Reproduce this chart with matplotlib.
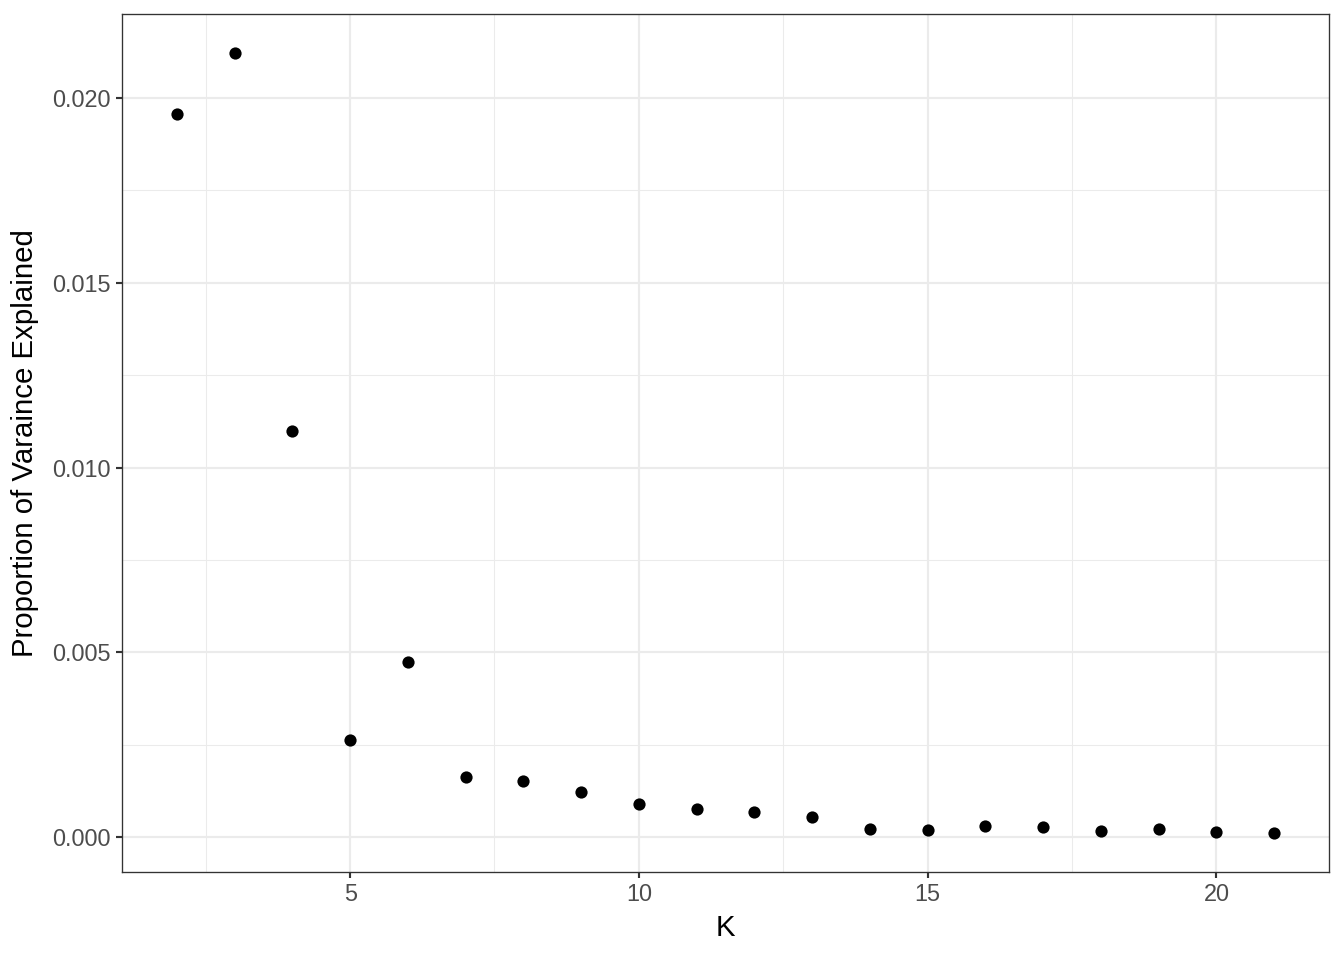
import matplotlib
matplotlib.use("Agg")
import matplotlib.pyplot as plt
import numpy as np

# proportion of variance explained by each K
k_values = [2, 3, 4, 5, 6, 7, 8, 9, 10, 11, 12, 13, 14, 15, 16, 17, 18, 19, 20, 21]
pve = [0.01957, 0.02122, 0.01100, 0.00262, 0.00473, 0.00162, 0.00151, 0.00122,
       0.00089, 0.00076, 0.00068, 0.00055, 0.00022, 0.00019, 0.00030, 0.00027,
       0.00016, 0.00022, 0.00014, 0.00011]

x_ticks = [5, 10, 15, 20]
y_ticks = [0.000, 0.005, 0.010, 0.015, 0.020]
y_ticklabels = ["0.000", "0.005", "0.010", "0.015", "0.020"]

plt.rcParams["font.family"] = ["Liberation Sans", "DejaVu Sans"]

DPI = 192
fig = plt.figure(figsize=(1344 / DPI, 960 / DPI), dpi=DPI)
ax = fig.add_axes([122 / 1344, 1 - 872 / 960, (1329 - 122) / 1344, (872 - 14) / 960])

ax.scatter(k_values, pve, s=21, color="black", zorder=3, linewidths=0)

# ggplot-style 5% expansion
xr = max(k_values) - min(k_values)
yr = max(pve) - min(pve)
ax.set_xlim(min(k_values) - 0.05 * xr, max(k_values) + 0.05 * xr)
ax.set_ylim(min(pve) - 0.05 * yr, max(pve) + 0.05 * yr)

ax.set_xticks(x_ticks)
ax.set_xticklabels([str(t) for t in x_ticks])
ax.set_yticks(y_ticks)
ax.set_yticklabels(y_ticklabels)
ax.set_xticks([2.5, 7.5, 12.5, 17.5], minor=True)
ax.set_yticks([0.0025, 0.0075, 0.0125, 0.0175], minor=True)

ax.grid(which="major", color="#EBEBEB", linewidth=0.8, zorder=0)
ax.grid(which="minor", color="#EBEBEB", linewidth=0.4, zorder=0)
ax.set_axisbelow(True)

for sp in ax.spines.values():
    sp.set_color("#333333")
    sp.set_linewidth(0.5)

ax.tick_params(axis="both", which="major", length=2.2, width=0.8, color="#333333",
               labelsize=8.8, labelcolor="#4D4D4D", pad=2)
ax.tick_params(axis="both", which="minor", length=0)

ax.set_xlabel("K", fontsize=11, labelpad=3)
ax.set_ylabel("Proportion of Varaince Explained", fontsize=11, labelpad=5)

fig.savefig("out.png", dpi=DPI)
